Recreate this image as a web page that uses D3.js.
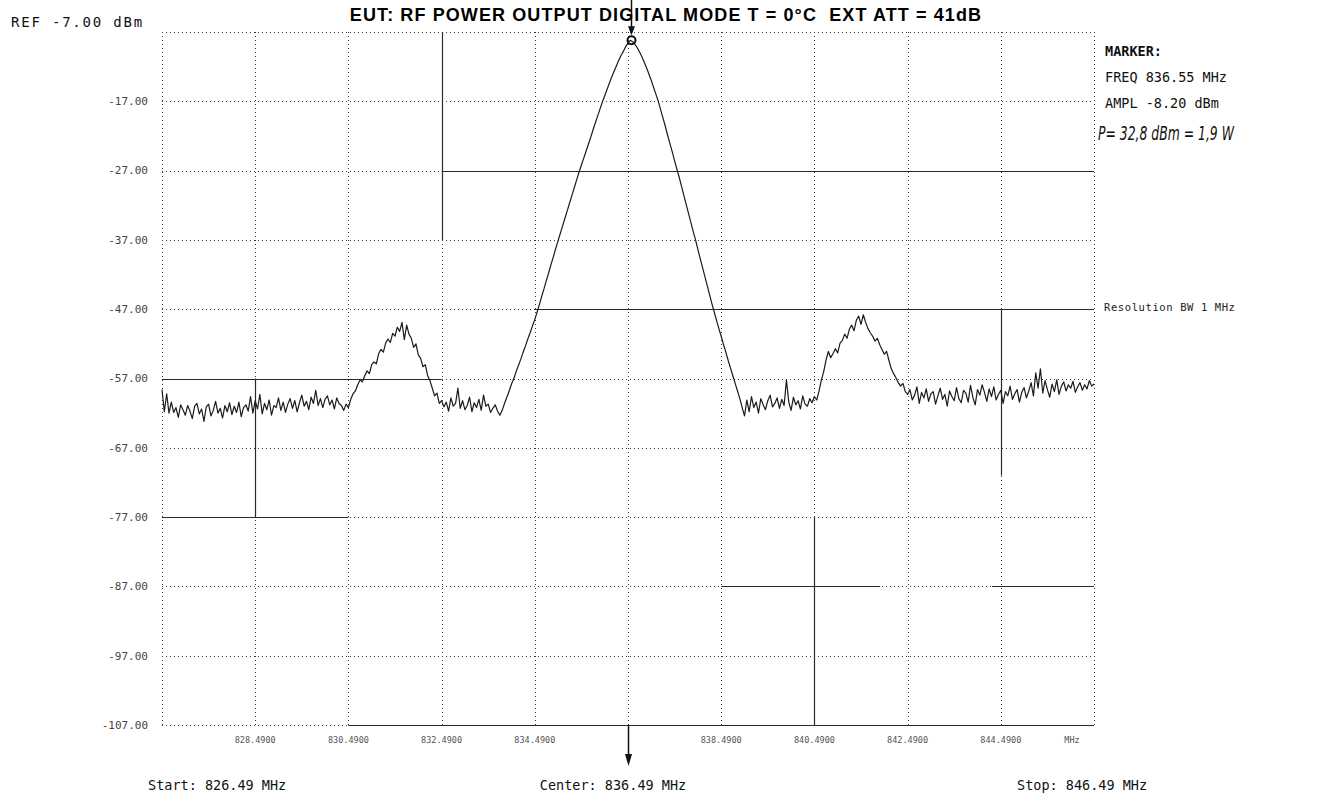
<!DOCTYPE html>
<html>
<head>
<meta charset="utf-8">
<script src="https://cdn.jsdelivr.net/npm/d3@7"></script>
<style>
  html, body { margin: 0; padding: 0; background: #fff; }
  svg { display: block; }
</style>
</head>
<body>
<svg id="chart" width="1331" height="800"></svg>
<script>
// Sweep settings of the analyzer
const sweepStartMHz = 826.49;
const sweepStopMHz = 846.49;
const sweepCenterMHz = 836.49;
const refLevelDbm = -7.0;
const bottomLevelDbm = -107.0;

// Amplitude grid labels (dBm) and frequency grid labels (MHz)
const levelTicks = [-17, -27, -37, -47, -57, -67, -77, -87, -97, -107];
const freqTicks = [828.49, 830.49, 832.49, 834.49, 836.49, 838.49, 840.49, 842.49, 844.49];
const freqTickLabels = ["828.4900", "830.4900", "832.4900", "834.4900", "", "838.4900", "840.4900", "842.4900", "844.4900"];

// Marker readout
const markerFreqMHz = 836.55;
const markerAmplDbm = -8.20;
const resolutionBw = "Resolution BW 1 MHz";
const titleText = "EUT: RF POWER OUTPUT DIGITAL MODE T = 0\u00B0C  EXT ATT = 41dB";
const noteText = "P= 32,8 dBm = 1,9 W";

// Trace samples (dBm), evenly spaced across the sweep
const traceDbm = [
  // 826.49 – 828.49
  -58.6,-61.8,-59.2,-62.0,-60.4,-61.9,-61.2,-62.6,-60.8,-61.5,
  -62.3,-60.9,-61.7,-62.8,-61.0,-60.6,-62.1,-61.4,-63.2,-61.1,
  -60.7,-62.4,-61.6,-60.3,-62.0,-61.3,-62.7,-60.9,-61.8,-60.5,
  -62.2,-61.0,-61.9,-60.4,-62.5,-61.2,-60.8,-61.7,-59.6,-62.0,
  -60.2,
  // 828.54 – 830.29
  -61.4,-59.3,-62.1,-60.6,-61.5,-60.1,-62.3,-60.9,-61.2,-59.8,
  -61.6,-60.4,-61.9,-60.7,-59.9,-61.3,-60.2,-61.8,-60.5,-59.4,
  -61.0,-60.3,-61.5,-59.7,-60.6,-58.7,-60.9,-59.9,-61.2,-60.0,
  -59.5,-60.8,-60.1,-61.4,-59.8,-60.6,
  // 830.34 – 830.49
  -60.9,-61.6,-60.7,-61.2,
  // lower adjacent channel, 830.54 – 832.49
  -60.0,-59.2,-58.8,-57.9,-57.2,-57.5,-56.6,-55.9,-56.3,-55.0,
  -54.6,-54.9,-53.4,-52.8,-53.2,-51.9,-51.3,-51.8,-50.5,-50.9,
  -49.6,-50.2,-48.9,-51.4,-49.3,-50.6,-51.2,-52.5,-52.0,-53.6,
  -54.1,-55.3,-55.0,-56.6,-57.3,-58.4,-59.5,-59.1,-60.6,-60.2,
  // 832.54 – 833.74
  -61.1,-60.4,-61.7,-59.8,-61.0,-60.6,-58.4,-61.3,-60.2,-61.5,
  -60.9,-59.7,-61.8,-60.5,-61.2,-60.0,-61.6,-59.4,-61.0,-60.7,
  -61.9,-61.3,-60.8,-61.7,-62.3,
  // main carrier, 833.79 – 838.94
  -61.6,-60.6,-59.7,-58.8,-57.8,-57.0,-56.0,-55.1,-54.2,-53.2,
  -52.3,-51.3,-50.4,-49.4,-48.5,-47.4,-46.3,-45.1,-44.0,-42.8,
  -41.7,-40.5,-39.4,-38.2,-37.1,-36.0,-34.9,-33.8,-32.7,-31.6,
  -30.5,-29.4,-28.3,-27.2,-26.2,-25.2,-24.2,-23.2,-22.2,-21.1,
  -20.1,-19.1,-18.1,-17.1,-16.2,-15.3,-14.4,-13.5,-12.7,-11.9,
  -11.1,-10.4,-9.8,-9.1,-8.6,-8.2,-8.4,-8.8,-9.3,-9.9,
  -10.6,-11.4,-12.2,-13.1,-14.0,-15.0,-16.0,-17.0,-18.2,-19.4,
  -20.6,-21.9,-23.1,-24.3,-25.6,-26.8,-28.0,-29.3,-30.6,-31.9,
  -33.2,-34.5,-35.8,-37.0,-38.4,-39.7,-41.0,-42.3,-43.6,-44.9,
  -46.2,-47.4,-48.6,-49.8,-50.9,-52.1,-53.2,-54.4,-55.5,-56.6,
  -57.7,-58.8,-59.9,-61.2,
  // 838.99 – 840.54
  -62.4,-60.1,-61.8,-59.6,-61.2,-60.4,-62.0,-59.9,-60.8,-61.5,
  -60.2,-59.4,-61.1,-60.6,-59.8,-61.3,-60.0,-60.9,-57.2,-60.4,
  -61.6,-59.7,-60.8,-60.2,-61.4,-59.5,-60.7,-61.0,-59.9,-60.5,
  -59.6,-60.1,
  // upper adjacent channel, 840.59 – 842.49
  -58.8,-57.2,-56.0,-54.3,-53.1,-54.0,-53.4,-52.7,-53.3,-51.9,
  -51.5,-50.6,-51.2,-49.9,-49.3,-50.1,-48.6,-48.0,-49.2,-47.8,
  -48.9,-49.8,-50.4,-50.9,-51.6,-51.2,-52.1,-52.8,-53.5,-53.1,
  -54.4,-55.6,-56.3,-56.9,-57.6,-58.1,-57.7,-58.9,-59.3,
  // 842.54 – 846.49
  -58.6,-60.1,-59.4,-58.2,-60.6,-59.0,-59.8,-58.5,-60.3,-59.2,
  -58.9,-60.7,-59.5,-58.4,-60.0,-59.3,-61.0,-58.8,-59.6,-60.2,
  -58.3,-59.9,-60.5,-58.7,-59.1,-60.4,-58.0,-59.7,-60.8,-58.6,
  -59.4,-57.9,-59.0,-60.3,-58.5,-59.6,-58.2,-60.1,-59.3,-58.7,
  -60.6,-58.9,-59.5,-58.1,-60.0,-59.2,-58.6,-60.4,-59.0,-58.3,
  -59.8,-58.8,-57.6,-59.5,-56.2,-58.4,-55.6,-59.1,-57.3,-58.6,
  -59.7,-57.8,-58.9,-57.2,-59.3,-58.1,-57.5,-58.8,-57.9,-58.4,
  -57.4,-59.0,-58.2,-57.6,-58.7,-57.9,-58.5,-57.3,-58.1,-57.8
];

// ---- layout ----
const plot = { left: 162, right: 1094, top: 32, bottom: 725 };
const svg = d3.select("#chart");
svg.append("rect").attr("width", 1331).attr("height", 800).attr("fill", "#fff");

const x = d3.scaleLinear().domain([sweepStartMHz, sweepStopMHz]).range([plot.left, plot.right]);
const y = d3.scaleLinear().domain([bottomLevelDbm, refLevelDbm]).range([plot.bottom, plot.top]);

const mono = "'DejaVu Sans Mono', 'Liberation Mono', monospace";

// ---- dotted graticule ----
const grid = svg.append("g").attr("stroke", "#3a3a3a").attr("stroke-width", 1)
  .attr("stroke-dasharray", "1,3").attr("fill", "none");

[refLevelDbm, ...levelTicks].forEach(v => {
  grid.append("line")
    .attr("x1", plot.left).attr("x2", plot.right)
    .attr("y1", Math.round(y(v)) + 0.5).attr("y2", Math.round(y(v)) + 0.5);
});
[sweepStartMHz, ...freqTicks, sweepStopMHz].forEach(f => {
  grid.append("line")
    .attr("x1", Math.round(x(f)) + 0.5).attr("x2", Math.round(x(f)) + 0.5)
    .attr("y1", plot.top).attr("y2", plot.bottom);
});

// Solid graticule runs printed by the plotter
const solidRuns = [
  { level: -27, from: 832.49, to: 846.49 },
  { level: -47, from: 834.49, to: 846.49 },
  { level: -57, from: 826.49, to: 832.49 },
  { level: -77, from: 826.49, to: 830.49 },
  { level: -87, from: 838.49, to: 841.90 },
  { level: -87, from: 844.30, to: 846.49 },
  { level: -107, from: 830.49, to: 846.49 },
  { freq: 832.49, from: -7, to: -37 },
  { freq: 844.49, from: -47, to: -71 },
  { freq: 840.49, from: -77, to: -107 },
  { freq: 828.49, from: -57, to: -77 }
];
const solid = svg.append("g").attr("stroke", "#2a2a2a").attr("stroke-width", 1.2);
solidRuns.forEach(r => {
  if (r.level !== undefined) {
    const yy = Math.round(y(r.level)) + 0.5;
    solid.append("line").attr("x1", x(r.from)).attr("x2", x(r.to)).attr("y1", yy).attr("y2", yy);
  } else {
    const xx = Math.round(x(r.freq)) + 0.5;
    solid.append("line").attr("x1", xx).attr("x2", xx).attr("y1", y(r.from)).attr("y2", y(r.to));
  }
});

// ---- amplitude labels ----
svg.append("g").selectAll("text").data(levelTicks).join("text")
  .attr("x", 148).attr("y", d => y(d))
  .attr("dy", "0.35em").attr("text-anchor", "end")
  .attr("font-family", mono).attr("font-size", 11).attr("fill", "#444")
  .text(d => d.toFixed(2));

svg.append("text")
  .attr("x", 11).attr("y", 27)
  .attr("font-family", mono).attr("font-size", 14).attr("letter-spacing", 1.8)
  .attr("fill", "#111")
  .text(`REF ${refLevelDbm.toFixed(2)} dBm`);

// ---- frequency labels ----
svg.append("g").selectAll("text").data(freqTicks.map((f, i) => ({ f, t: freqTickLabels[i] })))
  .join("text")
  .attr("x", d => x(d.f)).attr("y", 740)
  .attr("dy", "0.35em").attr("text-anchor", "middle")
  .attr("font-family", mono).attr("font-size", 8.5).attr("fill", "#555")
  .text(d => d.t);
svg.append("text")
  .attr("x", x(sweepStopMHz) - 22).attr("y", 740).attr("dy", "0.35em")
  .attr("text-anchor", "middle")
  .attr("font-family", mono).attr("font-size", 8.5).attr("fill", "#555")
  .text("MHz");

// ---- trace ----
const step = (sweepStopMHz - sweepStartMHz) / (traceDbm.length - 1);
const line = d3.line()
  .x((d, i) => x(sweepStartMHz + i * step))
  .y(d => y(d));
svg.append("path")
  .datum(traceDbm)
  .attr("d", line)
  .attr("fill", "none")
  .attr("stroke", "#1b1b1b")
  .attr("stroke-width", 1.2)
  .attr("stroke-linejoin", "round");

// ---- marker ----
const mx = Math.round(x(markerFreqMHz)) + 0.5;
const my = y(markerAmplDbm);
svg.append("line").attr("x1", mx).attr("x2", mx).attr("y1", 0).attr("y2", my - 10)
  .attr("stroke", "#111").attr("stroke-width", 1.5);
svg.append("path")
  .attr("d", `M${mx - 3.5},${my - 14} L${mx + 3.5},${my - 14} L${mx},${my - 5} Z`)
  .attr("fill", "#111");
svg.append("circle").attr("cx", mx).attr("cy", my).attr("r", 4)
  .attr("fill", "none").attr("stroke", "#111").attr("stroke-width", 2);

// Center frequency arrow below the graticule
const cx = Math.round(x(sweepCenterMHz)) + 0.5;
svg.append("line").attr("x1", cx).attr("x2", cx).attr("y1", plot.bottom).attr("y2", 760)
  .attr("stroke", "#111").attr("stroke-width", 1.5);
svg.append("path")
  .attr("d", `M${cx - 3.5},${754} L${cx + 3.5},${754} L${cx},${766} Z`)
  .attr("fill", "#111");

// ---- title ----
svg.append("text")
  .attr("x", 666).attr("y", 21).attr("text-anchor", "middle")
  .attr("xml:space", "preserve").style("white-space", "pre")
  .attr("font-family", "'Liberation Sans', Arial, sans-serif")
  .attr("font-weight", "bold").attr("font-size", 18).attr("letter-spacing", 1.1)
  .attr("fill", "#000")
  .text(titleText);

// ---- marker readout ----
const readout = svg.append("g").attr("font-family", mono).attr("fill", "#111").attr("font-size", 13.5);
readout.append("text").attr("x", 1105).attr("y", 56).attr("font-weight", "bold").text("MARKER:");
readout.append("text").attr("x", 1105).attr("y", 82).text(`FREQ ${markerFreqMHz.toFixed(2)} MHz`);
readout.append("text").attr("x", 1105).attr("y", 108).text(`AMPL ${markerAmplDbm.toFixed(2)} dBm`);

// Hand-written power note, narrow slanted lettering
svg.append("text")
  .attr("transform", "translate(1098,140) scale(0.62,1)")
  .attr("font-family", "'DejaVu Sans', sans-serif").attr("font-style", "italic")
  .attr("font-size", 20).attr("fill", "#111")
  .text(noteText);

svg.append("text").attr("x", 1104).attr("y", 311)
  .attr("font-family", mono).attr("font-size", 10.5).attr("letter-spacing", 0.6)
  .attr("fill", "#222").text(resolutionBw);

// ---- sweep span footer ----
const foot = svg.append("g").attr("font-family", mono).attr("font-size", 13.5).attr("fill", "#111");
foot.append("text").attr("x", 148).attr("y", 790).text(`Start: ${sweepStartMHz.toFixed(2)} MHz`);
foot.append("text").attr("x", 613).attr("y", 790).attr("text-anchor", "middle")
  .text(`Center: ${sweepCenterMHz.toFixed(2)} MHz`);
foot.append("text").attr("x", 1017).attr("y", 790).text(`Stop: ${sweepStopMHz.toFixed(2)} MHz`);
</script>
</body>
</html>
